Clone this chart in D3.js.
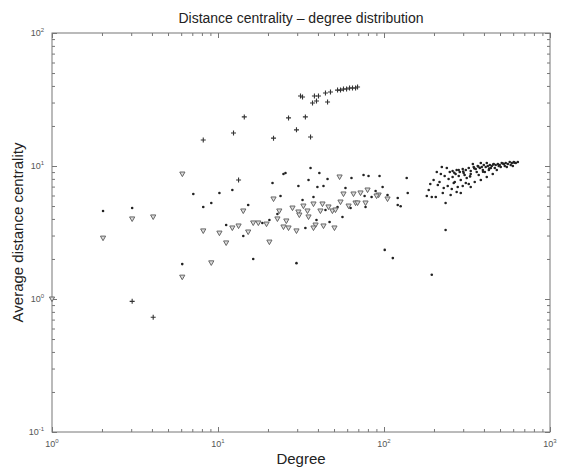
<!DOCTYPE html>
<html>
<head>
<meta charset="utf-8">
<script src="https://cdn.jsdelivr.net/npm/d3@7"></script>
<style>
  body { margin: 0; background: #fff; }
  svg { font-family: "Liberation Sans", Arial, sans-serif; }
</style>
</head>
<body>
<svg id="chart" width="561" height="468"></svg>
<script>
// [degree, average distance centrality]
const plusPoints = [
  [8.15, 15.7], [12.4, 17.7], [14.4, 23.4], [21.6, 16.2], [26.6, 23.0], [29.7, 18.7],
  [33.6, 23.4], [36.1, 16.5], [31.4, 33.6], [32.3, 33.0], [37.1, 29.8], [39.2, 30.8],
  [38.1, 33.6], [40.3, 33.6], [45.7, 30.3], [44.4, 35.4], [47.6, 36.0], [52.5, 37.2],
  [54.7, 37.2], [57.0, 37.9], [59.5, 37.9], [62.0, 38.6], [64.6, 38.6], [67.4, 38.6],
  [69.3, 39.3], [3.04, 0.96], [4.07, 0.73], [13.3, 7.85]
];

const trianglePoints = [
  [6.1, 8.7], [3.04, 4.0], [4.07, 4.14], [2.03, 2.87], [8.15, 3.25], [10.2, 3.13],
  [11.2, 2.64], [12.2, 3.42], [13.3, 3.54], [6.09, 1.46], [9.11, 1.87], [1.0, 1.0],
  [14.2, 4.59], [54, 8.27], [21.6, 5.65], [57, 6.16], [65.5, 6.16], [72.2, 6.27],
  [79.6, 6.6], [92.8, 6.05], [105, 5.65], [37.6, 5.18], [32.7, 5.0], [28.1, 4.83],
  [23.4, 4.59], [22.8, 4.0], [25.8, 3.86], [30.5, 4.51], [30.9, 4.28], [34.6, 4.59],
  [35.1, 4.14], [38.7, 3.6], [37.6, 3.42], [42.6, 5.18], [41.4, 4.59], [46.3, 4.92],
  [48.9, 4.59], [51, 4.67], [54.7, 5.36], [61.2, 5.0], [67.4, 5.27], [69.3, 5.27],
  [77.4, 5.27], [43.2, 3.54], [50.3, 3.42], [29.7, 3.25], [26.6, 3.42], [24.8, 3.48],
  [19.6, 3.66], [16.3, 3.73], [15.2, 3.19], [20.4, 2.68], [90.2, 5.95], [17.5, 3.73]
];

const dotPoints = [
  [7.1, 6.16], [10.2, 6.27], [12.2, 6.6], [2.03, 4.59], [3.04, 4.83], [8.15, 4.92],
  [9.11, 5.27], [11.2, 3.6], [6.09, 1.83], [15.2, 5.09], [21.3, 7.45], [24.8, 8.71],
  [25.5, 8.87], [36.1, 9.66], [40.8, 8.86], [30.5, 7.07], [35.1, 7.85], [39.7, 6.95],
  [43.2, 7.07], [45.7, 7.99], [63.7, 8.12], [75.3, 8.56], [80.7, 8.4], [94, 8.4],
  [137, 8.12], [139, 6.27], [58.6, 6.83], [23.8, 5.95], [89, 6.49], [98.1, 6.95],
  [105, 6.05], [121, 5.75], [121, 5.09], [126, 4.98], [37.6, 5.85], [22.8, 4.36],
  [20.4, 3.93], [39.2, 3.93], [44.4, 4.67], [52.5, 4.92], [62.9, 4.83], [77.4, 4.92],
  [56.2, 4.14], [47, 3.79], [33.6, 3.42], [18.5, 3.73], [14.2, 2.98], [16.3, 2.0],
  [29.7, 1.86], [101, 2.34], [113, 2.03], [76.4, 5.95], [84.2, 5.85], [51, 4.75],
  [194, 1.52], [235, 3.3], [32.3, 5.55],
  // high-degree cluster
  [249, 9.01], [259, 9.17], [274, 9.33], [286, 9.01], [298, 9.49], [311, 9.33],
  [324, 9.66], [333, 9.17], [347, 9.83], [357, 9.49], [367, 10.0], [378, 9.66],
  [388, 9.83], [399, 10.17], [410, 9.83], [422, 10.0], [434, 10.17], [446, 10.0],
  [458, 10.35], [471, 10.17], [485, 10.35], [498, 10.17], [512, 10.53], [527, 10.35],
  [541, 10.53], [557, 10.35], [572, 10.72], [589, 10.53], [605, 10.72], [622, 10.53],
  [640, 10.72], [580, 10.17], [505, 9.83], [465, 9.66], [428, 9.33], [394, 9.33],
  [362, 9.01], [333, 8.71], [306, 8.56], [282, 8.41], [259, 8.27], [343, 10.35],
  [383, 10.53], [416, 10.53], [440, 9.66], [491, 10.0], [534, 10.0], [372, 8.56],
  [315, 8.12], [290, 7.85], [267, 7.58], [245, 7.99], [232, 8.41], [220, 8.71],
  [239, 9.66], [223, 9.83], [208, 9.01], [199, 7.85], [211, 7.2], [229, 6.83],
  [242, 7.07], [256, 6.72], [278, 6.95], [298, 7.07], [324, 7.32], [352, 7.58],
  [383, 7.85], [416, 8.27], [452, 8.71], [274, 6.37], [290, 6.27], [252, 6.05],
  [226, 6.27], [205, 5.85], [194, 5.85], [186, 6.6], [181, 5.95], [235, 5.27],
  [333, 6.95], [311, 7.45], [263, 7.45], [405, 9.01], [478, 9.33], [549, 9.83],
  [597, 10.0], [282, 9.33], [302, 8.86], [270, 8.71], [216, 7.58], [190, 7.32],
  [370, 9.9], [455, 10.25], [520, 10.45], [610, 10.6], [300, 9.1], [350, 9.6],
  [430, 9.55], [395, 9.05], [330, 8.35], [265, 8.9]
];

const xDomain = [1, 1000];
const yDomain = [0.1, 100];
const xTickExps = [0, 1, 2, 3];
const yTickExps = [-1, 0, 1, 2];

const svg = d3.select('#chart');
const margin = { top: 33, right: 11, bottom: 36, left: 52 };
const width = 561 - margin.left - margin.right;
const height = 468 - margin.top - margin.bottom;

const g = svg.append('g').attr('transform', `translate(${margin.left},${margin.top})`);

const x = d3.scaleLog().domain(xDomain).range([0, width]);
const y = d3.scaleLog().domain(yDomain).range([height, 0]);

// all decade + minor ticks
function logTicks(domain) {
  const t = [];
  for (let e = Math.log10(domain[0]); e < Math.log10(domain[1]); e++) {
    for (let m = 1; m < 10; m++) t.push(m * Math.pow(10, e));
  }
  t.push(domain[1]);
  return t;
}
const isMajor = v => Math.abs(Math.log10(v) - Math.round(Math.log10(v))) < 1e-9;

const axisColor = '#777';

function styleAxis(sel, sign) {
  sel.select('.domain').remove();
  sel.selectAll('text').remove();
  sel.selectAll('.tick line')
    .attr('stroke', axisColor)
    .each(function (d) {
      const len = isMajor(d) ? 5 : 3;
      const line = d3.select(this);
      if (line.attr('x2') !== null && +line.attr('x2') !== 0) line.attr('x2', sign * len);
      else line.attr('y2', sign * len);
    });
}

g.append('g').attr('transform', `translate(0,${height})`)
  .call(d3.axisBottom(x).tickValues(logTicks(xDomain)).tickSize(-5))
  .call(s => styleAxis(s, -1));
g.append('g')
  .call(d3.axisTop(x).tickValues(logTicks(xDomain)).tickSize(-5))
  .call(s => styleAxis(s, 1));
g.append('g')
  .call(d3.axisLeft(y).tickValues(logTicks(yDomain)).tickSize(-5))
  .call(s => styleAxis(s, 1));
g.append('g').attr('transform', `translate(${width},0)`)
  .call(d3.axisRight(y).tickValues(logTicks(yDomain)).tickSize(-5))
  .call(s => styleAxis(s, -1));

g.append('rect')
  .attr('width', width).attr('height', height)
  .attr('fill', 'none').attr('stroke', axisColor).attr('stroke-width', 1);

// tick labels 10^n
const xl = g.selectAll('.xlab').data(xTickExps).enter().append('text')
  .attr('class', 'xlab')
  .attr('x', d => x(Math.pow(10, d)))
  .attr('y', height + 15)
  .attr('text-anchor', 'middle')
  .attr('font-size', 9).attr('fill', '#555');
xl.append('tspan').text('10');
xl.append('tspan').attr('dy', -4).attr('font-size', 6).text(d => d);

const yl = g.selectAll('.ylab').data(yTickExps).enter().append('text')
  .attr('class', 'ylab')
  .attr('x', -8)
  .attr('y', d => y(Math.pow(10, d)) + 3)
  .attr('text-anchor', 'end')
  .attr('font-size', 9).attr('fill', '#555');
yl.append('tspan').text('10');
yl.append('tspan').attr('dy', -4).attr('font-size', 6).text(d => d);

// markers
const plot = g.append('g');

plot.selectAll('.dot').data(dotPoints).enter().append('circle')
  .attr('class', 'dot')
  .attr('cx', d => x(d[0])).attr('cy', d => y(d[1]))
  .attr('r', 1.3).attr('fill', '#222');

plot.selectAll('.tri').data(trianglePoints).enter().append('path')
  .attr('class', 'tri')
  .attr('transform', d => `translate(${x(d[0])},${y(d[1])})`)
  .attr('d', 'M-2.6,-2 L2.6,-2 L0,2.6 Z')
  .attr('fill', '#ddd').attr('stroke', '#666').attr('stroke-width', 1);

plot.selectAll('.plus').data(plusPoints).enter().append('path')
  .attr('class', 'plus')
  .attr('transform', d => `translate(${x(d[0])},${y(d[1])})`)
  .attr('d', 'M-2.5,0 H2.5 M0,-2.5 V2.5')
  .attr('stroke', '#333').attr('stroke-width', 1.1);

// titles
svg.append('text')
  .attr('x', margin.left + width / 2).attr('y', 23)
  .attr('text-anchor', 'middle').attr('font-size', 14).attr('fill', '#222')
  .text('Distance centrality \u2013 degree distribution');

svg.append('text')
  .attr('x', margin.left + width / 2).attr('y', 464)
  .attr('text-anchor', 'middle').attr('font-size', 15).attr('fill', '#222')
  .text('Degree');

svg.append('text')
  .attr('transform', `translate(23,${margin.top + height / 2}) rotate(-90)`)
  .attr('text-anchor', 'middle').attr('font-size', 15).attr('fill', '#222')
  .text('Average distance centrality');
</script>
</body>
</html>
